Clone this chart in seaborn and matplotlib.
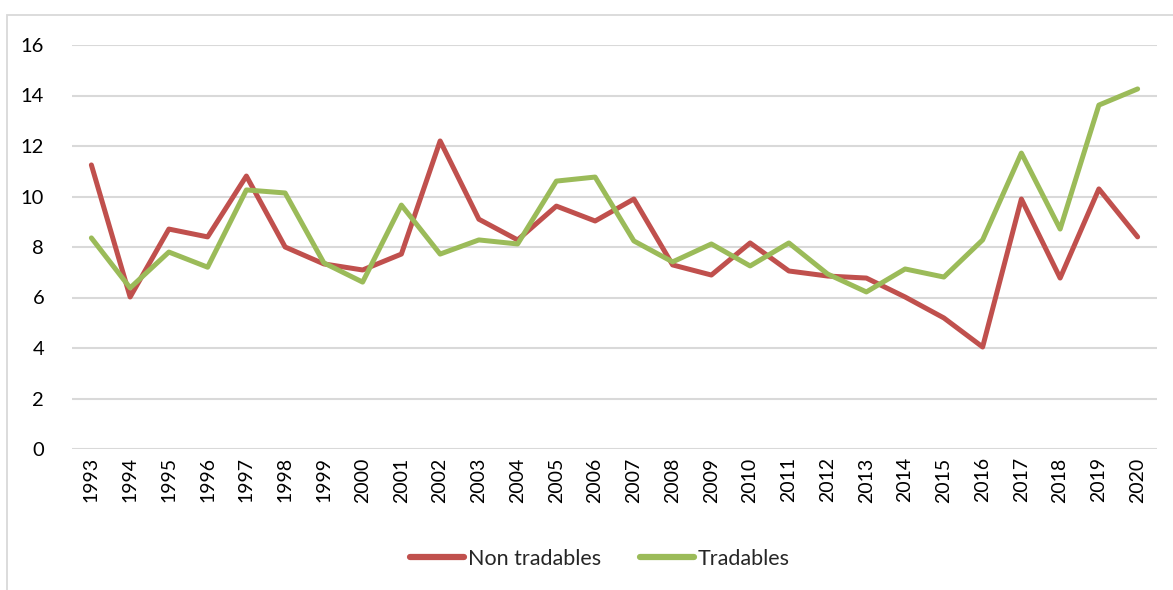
import matplotlib
matplotlib.use("Agg")
import matplotlib.pyplot as plt
import seaborn as sns
import pandas as pd
from matplotlib.patches import Rectangle
from matplotlib.lines import Line2D

years = list(range(1993, 2021))
non_tradables = [11.25, 6.02, 8.71, 8.40, 10.81, 8.00, 7.33, 7.09, 7.72, 12.20,
                 9.10, 8.28, 9.62, 9.03, 9.90, 7.29, 6.89, 8.16, 7.05, 6.85,
                 6.77, 6.02, 5.19, 4.04, 9.90, 6.77, 10.30, 8.40]
tradables = [8.36, 6.38, 7.80, 7.20, 10.26, 10.14, 7.37, 6.61, 9.66, 7.72,
             8.28, 8.12, 10.61, 10.77, 8.24, 7.41, 8.12, 7.25, 8.16, 6.93,
             6.22, 7.13, 6.81, 8.28, 11.72, 8.71, 13.62, 14.26]
series_names = ["Non tradables", "Tradables"]
colors = ["#c0504d", "#9bbb59"]
y_ticks = [0, 2, 4, 6, 8, 10, 12, 14, 16]

df = pd.DataFrame({
    "year": years * 2,
    "value": non_tradables + tradables,
    "series": [series_names[0]] * len(years) + [series_names[1]] * len(years),
})

sns.set_theme(style="white")
plt.rcParams["font.family"] = ["Lato", "DejaVu Sans"]

fig = plt.figure(figsize=(11.73, 5.9), dpi=100)
ax = fig.add_axes([72 / 1173, 1 - 449 / 590, (1157 - 72) / 1173, (449 - 45) / 590])

# outer chart border (only left and top visible)
fig.patches.append(Rectangle((7 / 1173, -0.1), 1.2, 1 - 15 / 590 + 0.1,
                             transform=fig.transFigure, fill=False,
                             edgecolor="#d9d9d9", linewidth=1.3))

sns.lineplot(data=df, x="year", y="value", hue="series", palette=colors,
             linewidth=3.6, ax=ax, legend=False, zorder=3)

ax.set_xlim(years[0] - 0.5, years[-1] + 0.5)
ax.set_ylim(0, 16)
ax.set_yticks(y_ticks)
ax.set_yticklabels([str(v) for v in y_ticks], fontsize=14.5, color="#000000")
ax.set_xticks(years)
ax.set_xticklabels([str(y) for y in years], rotation=90, fontsize=14, color="#000000")
ax.tick_params(axis="x", length=0, pad=6)
ax.tick_params(axis="y", length=0, pad=20)
ax.yaxis.grid(True, color="#d9d9d9", linewidth=1.5)
ax.xaxis.grid(False)
for s in ax.spines.values():
    s.set_visible(False)
ax.set_xlabel("")
ax.set_ylabel("")

handles = [Line2D([0], [0], color=c, linewidth=4.5, solid_capstyle="round") for c in colors]
fig.legend(handles, series_names, loc="center", bbox_to_anchor=(600 / 1173, 1 - 559 / 590),
           ncol=2, frameon=False, fontsize=15.5, handlelength=2.5, handletextpad=0.2,
           columnspacing=1.8)

fig.savefig("out.png", dpi=100, facecolor="white")
